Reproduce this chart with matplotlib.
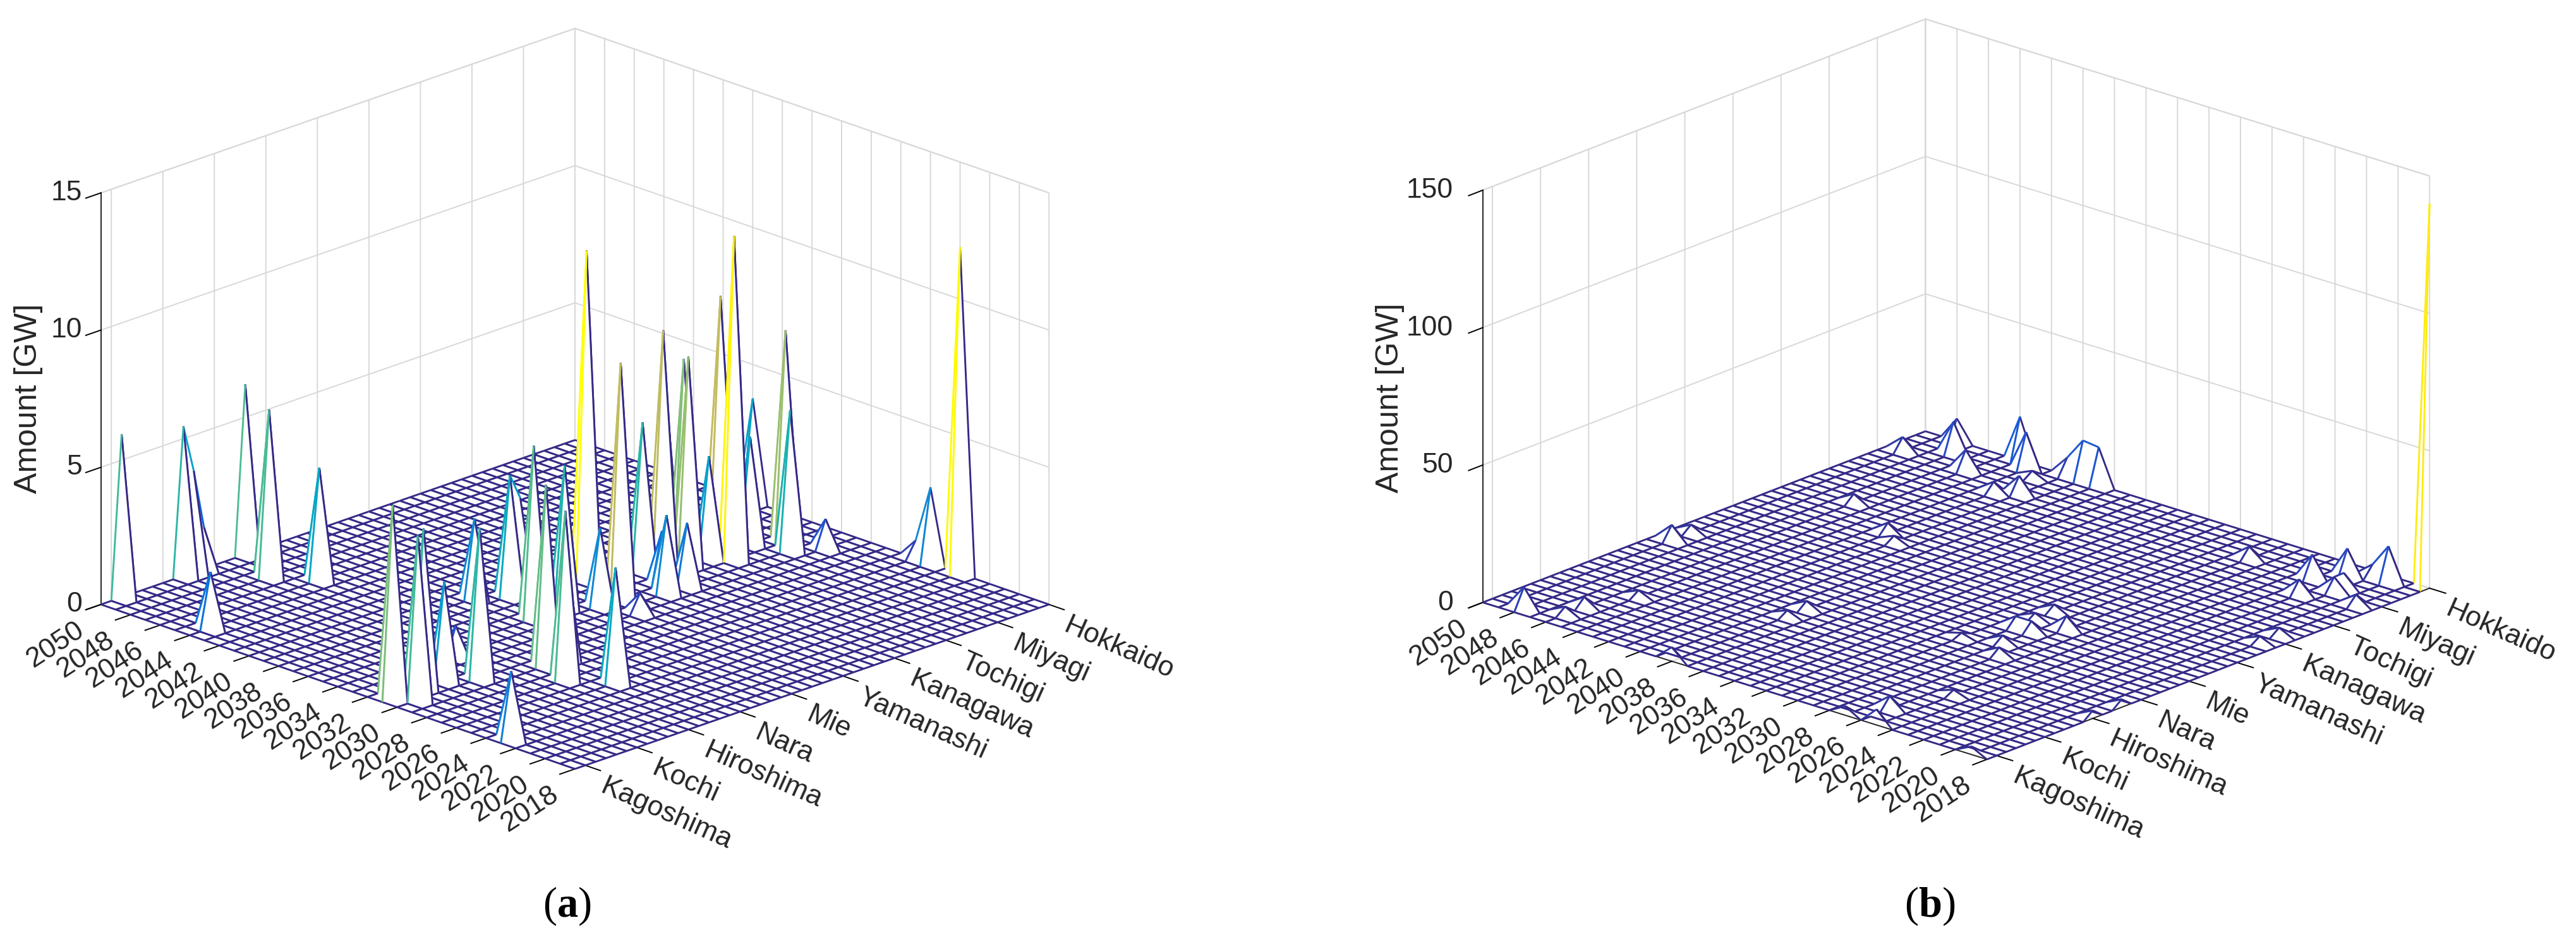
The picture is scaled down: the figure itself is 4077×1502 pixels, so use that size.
import matplotlib
matplotlib.use('Agg')
from matplotlib import pyplot as plt
from matplotlib.colors import LinearSegmentedColormap
from mpl_toolkits.mplot3d.art3d import Poly3DCollection, Line3DCollection
import numpy as np

plt.rcParams['font.family'] = ['Liberation Sans', 'DejaVu Sans']
plt.rcParams['mathtext.fontset'] = 'custom'
plt.rcParams['mathtext.rm'] = 'Liberation Serif'
plt.rcParams['mathtext.bf'] = 'Liberation Serif:bold'

years = list(range(2018, 2051))
year_ticks = list(range(2018, 2051, 2))
pref_numbers = list(range(1, 48))
pref_ticks = [1, 6, 11, 16, 21, 26, 31, 36, 41, 46]
pref_labels = ['Hokkaido', 'Miyagi', 'Tochigi', 'Kanagawa', 'Yamanashi', 'Mie', 'Nara', 'Hiroshima', 'Kochi', 'Kagoshima']

# everything not listed is zero
peak_year_a = [2050, 2050, 2050, 2050, 2050, 2047, 2050, 2045, 2044, 2031, 2030, 2031, 2031, 2033, 2030, 2038,
               2023, 2037, 2037, 2034, 2029, 2034, 2027, 2029, 2033, 2025, 2031, 2032, 2032, 2033, 2024, 2026,
               2027, 2031, 2033, 2032, 2038, 2034, 2033, 2036, 2036, 2033, 2035, 2035, 2037, 2035, 2034, 2034]
peak_pref_a = [45, 39, 38, 37, 33, 35, 31, 33, 45, 46, 45, 43, 41, 37, 39, 28,
               46, 26, 25, 28, 34, 25, 35, 32, 23, 33, 22, 18, 16, 17, 1, 1,
               1, 4, 5, 6, 1, 7, 10, 7, 20, 21, 16, 14, 11, 12, 13, 11]
peak_gw_a = [5.95, 5.45, 3.7, 1.5, 6.2, 6.1, 3.3, 4.1, 2.05, 7.05, 6.0, 5.8, 3.6, 1.1, 5.5, 2.9,
             2.5, 4.4, 3.45, 6.3, 6.6, 5.2, 6.15, 3.7, 2.85, 4.2, 0.72, 2.85, 2.3, 1.95, 11.9, 2.77,
             0.65, 1.07, 7.7, 5.1, 3.76, 3.9, 11.8, 8.65, 12.0, 8.6, 5.4, 8.5, 6.1, 7.2, 7.6, 3.7]

peak_year_b = [2018, 2048, 2047, 2049, 2045, 2044, 2043, 2041, 2040, 2039, 2042, 2041, 2042, 2046, 2042, 2041,
               2027, 2023, 2022, 2020, 2021, 2022, 2021, 2021, 2019, 2019, 2019, 2029, 2029, 2027, 2028, 2027,
               2028, 2030, 2025, 2026, 2025, 2027, 2038, 2038, 2019, 2018, 2018, 2029, 2048, 2046, 2046, 2045,
               2049, 2049, 2038]
peak_pref_b = [1, 1, 3, 5, 5, 1, 2, 1, 1, 1, 7, 6, 3, 15, 18, 19,
               5, 5, 3, 2, 2, 8, 6, 5, 7, 15, 17, 22, 26, 24, 26, 31,
               29, 30, 39, 44, 47, 47, 35, 33, 47, 33, 36, 24, 46, 45, 43, 39,
               29, 27, 47]
peak_gw_b = [140, 8.2, 11.5, 5.1, 7.6, 16, 13.5, 6.5, 14.5, 13.8, 4, 6.6, 2.6, 3.3, 4, 2.4,
             4.5, 8.7, 10, 13, 4.7, 5.5, 5.5, 5.6, 4, 2.8, 2.4, 2.9, 4, 5, 4, 3,
             2.9, 1.6, 2, 4.7, 5.7, 3.3, 2.3, 3, 2.9, 2.9, 2.9, 2.5, 7.8, 2.9, 3.7, 2.5,
             5.6, 3, 5.1]

parula = LinearSegmentedColormap.from_list('parula', [
    (0.2081, 0.1663, 0.5292), (0.1707, 0.2919, 0.7792), (0.0165, 0.4266, 0.8786), (0.0779, 0.5040, 0.8384),
    (0.0265, 0.6137, 0.8135), (0.0267, 0.6642, 0.7607), (0.1133, 0.7015, 0.6859), (0.2586, 0.7317, 0.5954),
    (0.4420, 0.7481, 0.5033), (0.6099, 0.7473, 0.4337), (0.7525, 0.7384, 0.3768), (0.8824, 0.7274, 0.3217),
    (0.9938, 0.7455, 0.2403), (0.9789, 0.8271, 0.1633), (1.0, 1.0, 0.0)])

W, H = 4077, 1502
DARK = '#262626'
GRID = '#d8d8d8'


def draw_panel(cx, cy, size, azim, aspect, z_top, z_ticks, clim, peak_year, peak_pref, peak_gw, zlabelpad, ztickpad):
    # cx, cy is where the middle of the box lands, in pixels
    left = cx - 0.5135 * size
    bottom = H - (cy + 0.5135 * size)
    ax = fig.add_axes([left / W, bottom / H, size / W, size / H], projection='3d', computed_zorder=False)
    ax.patch.set_alpha(0)
    ax.set_proj_type('ortho')
    ax.view_init(elev=20.3, azim=azim)
    ax.set_box_aspect(aspect)
    ax.set_xlim(2018, 2050, view_margin=0)
    ax.set_ylim(1, 47, view_margin=0)
    ax.set_zlim(0, z_top, view_margin=0)

    z = np.zeros((len(years), len(pref_numbers)))
    for y, p, g in zip(peak_year, peak_pref, peak_gw):
        z[y - 2018, p - 1] = g

    # painter's order, back corner first
    order = 10
    for i in range(len(years) - 2, -1, -1):
        for j in range(len(pref_numbers) - 1):
            x0, x1 = years[i], years[i + 1]
            y0, y1 = pref_numbers[j], pref_numbers[j + 1]
            a = (x0, y0, z[i, j])
            b = (x1, y0, z[i + 1, j])
            c = (x1, y1, z[i + 1, j + 1])
            d = (x0, y1, z[i, j + 1])
            face = Poly3DCollection([[a, b, c, d]], facecolors='white', edgecolors='none', zorder=order)
            ax.add_collection3d(face, autolim=False)
            # an edge takes the colour of its lower index end
            segs = [[a, b], [a, d], [d, c], [b, c]]
            cols = [parula(min(v / clim, 1.0)) for v in (z[i, j], z[i, j], z[i, j + 1], z[i + 1, j])]
            lines = Line3DCollection(segs, colors=cols, linewidths=2.1, zorder=order + 1)
            ax.add_collection3d(lines, autolim=False)
            order += 2

    ax.set_xticks(year_ticks)
    ax.set_xticklabels(year_ticks, rotation=33, ha='right', va='center', rotation_mode='anchor', fontsize=32, color=DARK)
    ax.set_yticks(pref_ticks)
    ax.set_yticklabels(pref_labels, rotation=-24, ha='left', va='center', rotation_mode='anchor', fontsize=32, color=DARK)
    ax.set_zticks(z_ticks)
    ax.set_zticklabels(z_ticks, fontsize=32, color=DARK, ha='right', va='center')
    ax.zaxis.set_ticks_position('upper')
    ax.zaxis.set_label_position('upper')
    ax.zaxis.set_rotate_label(False)
    ax.set_zlabel('Amount [GW]', rotation=90, fontsize=36, color=DARK, labelpad=zlabelpad)
    ax.tick_params(axis='x', pad=16)
    ax.tick_params(axis='y', pad=13)
    ax.tick_params(axis='z', pad=ztickpad)

    for axis in (ax.xaxis, ax.yaxis, ax.zaxis):
        axis.set_pane_color('white')
        axis.pane.set_edgecolor(GRID)
        axis.pane.set_linewidth(1.4)
        axis.line.set_color(DARK)
        axis.line.set_linewidth(1.4)
        axis._axinfo['grid']['color'] = GRID
        axis._axinfo['grid']['linewidth'] = 1.4
        axis._axinfo['tick']['color'] = DARK
        axis._axinfo['tick']['linewidth'] = {True: 1.4, False: 1.4}
        # the ticks point away from the walls only with inward set here
        axis._axinfo['tick']['inward_factor'] = 0.4
        axis._axinfo['tick']['outward_factor'] = 0.0
    ax.grid(True)
    return ax


fig = plt.figure(figsize=(W / 100, H / 100), dpi=100)
draw_panel(910, 631, 1605, 135, (1060, 1060, 694), 15, [0, 5, 10, 15], 12.0,
           peak_year_a, peak_pref_a, peak_gw_a, 25, 4)
draw_panel(3096, 616, 1605, 131.9, (1074, 1051, 697), 150, [0, 50, 100, 150], 145.0,
           peak_year_b, peak_pref_b, peak_gw_b, 38, 11)

fig.text(897 / W, 1 - 1434 / H, r'$\mathrm{(}\mathbf{a}\mathrm{)}$', fontsize=48, ha='center', va='center', color='black')
fig.text(3054 / W, 1 - 1434 / H, r'$\mathrm{(}\mathbf{b}\mathrm{)}$', fontsize=48, ha='center', va='center', color='black')

fig.savefig('out.png', dpi=100)
